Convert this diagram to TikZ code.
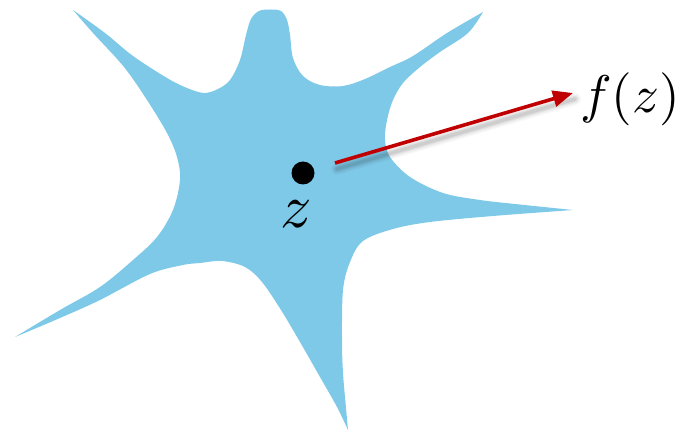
\documentclass[tikz,border=0pt]{standalone}
\usetikzlibrary{arrows.meta}
\definecolor{starblue}{RGB}{127,201,232}
\definecolor{arrred}{RGB}{192,0,0}
\tikzset{
  starfill/.style={fill=starblue},
  edge/.style={smooth,tension=0.55},
  mainarrow/.style={draw=arrred,line width=3.6pt,-{Triangle[length=20pt,width=16pt]}},
  shadowline/.style={draw=black,line cap=round},
  dotnode/.style={circle,fill=black,minimum size=23pt,inner sep=0pt},
  bigmath/.style={inner sep=0pt,scale=#1},
}
\begin{document}
\begin{tikzpicture}[x=1pt,y=-1pt]
\useasboundingbox (0,0) rectangle (686,433);
% star-shaped region
\fill[starfill]
  plot[edge] coordinates {(73,10) (105,33) (133,56) (167,78) (187,88) (204,93) (218,89) (230,80) (240,60) (246,35) (251,19) (259,11) (270,9.5) (281,11) (287,20) (290,35) (293,58) (303,76) (320,85) (343,86) (365,79) (390,67) (413,56) (447,33) (483,12)}
  -- plot[edge] coordinates {(483,12) (468,33) (440,52) (420,67) (403,83) (393,100) (387,120) (385,140) (390,157) (410,177) (443,193) (480,200) (515,204) (573,210)}
  -- plot[edge] coordinates {(573,210) (493,216) (430,222) (393,229) (363,241) (350,262) (343,290) (342,340) (343,373) (346,408) (348,430)}
  -- plot[edge] coordinates {(348,430) (337,407) (320,377) (300,342) (281,310) (262,282) (245,267) (222,261) (200,263) (183,265) (150,274) (100,300) (60,318) (15,337)}
  -- plot[edge] coordinates {(15,337) (60,310) (100,287) (133,260) (157,237) (173,210) (180,180) (177,157) (167,133) (147,100) (124,67) (93,33) (73,10)}
  -- cycle;
% point z
\node[dotnode] (z) at (303,173) {};
\node[bigmath=6.2] (zlab) at (296,214) {$z$};
\node[bigmath=5.3] (fz) at (630,99) {$f(z)$};
\coordinate (start) at (335,163);
\coordinate (tip) at (573,93);
% soft shadow of the arrow
\foreach \w/\o in {12/0.03,9/0.04,6/0.06,3.5/0.08}{
  \draw[shadowline,line width=\w pt,opacity=\o] ([shift={(2,6)}]start) -- ([shift={(2,6)}]tip);
}
\draw[mainarrow] (start) -- (tip);
\end{tikzpicture}
\end{document}
